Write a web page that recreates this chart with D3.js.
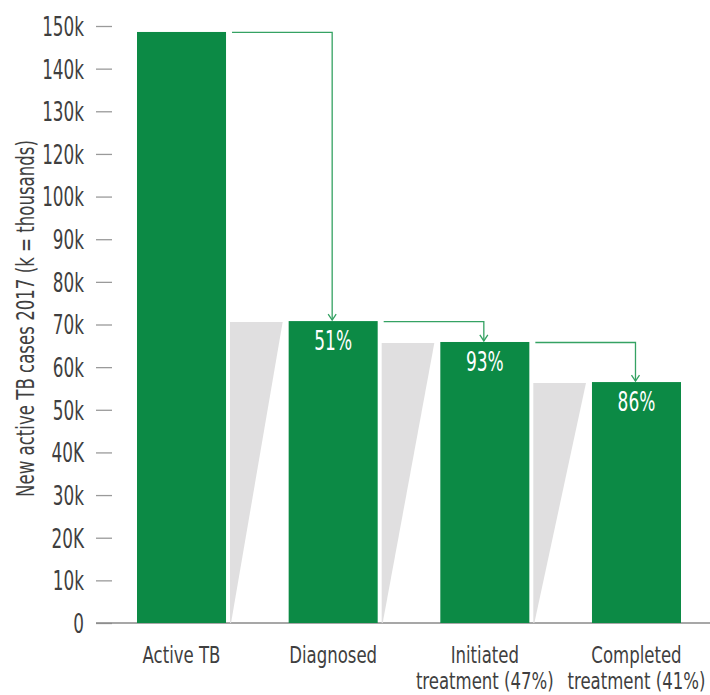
<!DOCTYPE html>
<html>
<head>
<meta charset="utf-8">
<script src="https://cdn.jsdelivr.net/npm/d3@7"></script>
<style>
  body { margin: 0; background: #fff; }
  text { font-family: "DejaVu Sans Condensed", "Liberation Sans", sans-serif; }
</style>
</head>
<body>
<script>
// stages of the cascade and their case counts
const stages = ['Active TB', 'Diagnosed', 'Initiated', 'Completed'];
const stageLines = [['Active TB'], ['Diagnosed'], ['Initiated', 'treatment (47%)'], ['Completed', 'treatment (41%)']];
const cases = [138600, 70800, 65900, 56500];
const stepPct = ['', '51%', '93%', '86%'];

// tick values and the labels printed on them (as in the original)
const tickValues = [0, 10000, 20000, 30000, 40000, 50000, 60000, 70000, 80000, 90000, 100000, 110000, 120000, 130000, 140000];
const tickLabels = ['0', '10k', '20K', '30k', '40K', '50k', '60k', '70k', '80k', '90k', '100k', '120k', '130k', '140k', '150k'];

const width = 710, height = 695;
const green = '#0c8a45';
const ink = '#3f3f3f';

const svg = d3.select('body').append('svg')
  .attr('width', width)
  .attr('height', height);

const y = d3.scaleLinear()
  .domain([0, 140000])
  .range([623, 26]);

const x = d3.scaleBand()
  .domain(stages)
  .range([137, 681])
  .paddingInner(0.413)
  .paddingOuter(0);

const bw = x.bandwidth();

// y axis (labels squeezed to look like a condensed face)
const sq = 0.72;
const yAxis = svg.append('g')
  .attr('transform', 'translate(112,0)')
  .call(d3.axisLeft(y)
    .tickValues(tickValues)
    .tickFormat((d, i) => tickLabels[i])
    .tickSize(16)
    .tickPadding(12));

yAxis.select('.domain').remove();
yAxis.selectAll('.tick line')
  .attr('stroke', '#9a9a9a')
  .attr('stroke-width', 1.3);
yAxis.selectAll('.tick text')
  .attr('fill', ink)
  .style('font-size', '26px')
  .attr('x', -28 / sq)
  .attr('dy', '0.36em')
  .attr('transform', `scale(${sq},1)`);

// baseline
svg.append('line')
  .attr('x1', 96).attr('x2', width)
  .attr('y1', y(0)).attr('y2', y(0))
  .attr('stroke', '#8a8a8a')
  .attr('stroke-width', 1.5);

// y title
svg.append('text')
  .attr('transform', 'translate(34,318.5) rotate(-90)')
  .attr('text-anchor', 'middle')
  .attr('fill', ink)
  .style('font-size', '25px')
  .attr('textLength', 357)
  .attr('lengthAdjust', 'spacingAndGlyphs')
  .text('New active TB cases 2017  (k = thousands)');

// grey drop-off wedges between bars
const wedges = d3.range(1, stages.length);
svg.selectAll('polygon.wedge')
  .data(wedges).enter()
  .append('polygon')
  .attr('class', 'wedge')
  .attr('fill', '#e0dfe0')
  .attr('points', i => {
    const x0 = x(stages[i - 1]) + bw + 4;
    const x1 = x(stages[i]) - 6;
    const top = y(cases[i]) + 1;
    const bot = y(0);
    return [[x0, top], [x1, top], [x0 + 1, bot], [x0, bot]].map(p => p.join(',')).join(' ');
  });

// bars
svg.selectAll('rect.bar')
  .data(stages).enter()
  .append('rect')
  .attr('class', 'bar')
  .attr('x', d => x(d))
  .attr('y', (d, i) => y(cases[i]))
  .attr('width', bw)
  .attr('height', (d, i) => y(0) - y(cases[i]))
  .attr('fill', green);

// percentage labels in bars
svg.selectAll('text.pct')
  .data(stages).enter()
  .append('text')
  .attr('class', 'pct')
  .attr('transform', (d, i) => `translate(${x(d) + bw / 2},${y(cases[i]) + 29}) scale(0.7,1)`)
  .attr('text-anchor', 'middle')
  .attr('fill', '#fff')
  .style('font-size', '27px')
  .text((d, i) => stepPct[i]);

// connector arrows
const arrowColor = '#35a263';
wedges.forEach(i => {
  const xs = x(stages[i - 1]) + bw + 6;
  const ys = y(cases[i - 1]) + 0.5;
  const xe = x(stages[i]) + bw / 2 - 1;
  const ye = y(cases[i]) - 1;
  svg.append('path')
    .attr('d', `M${xs},${ys} H${xe} V${ye}`)
    .attr('fill', 'none')
    .attr('stroke', arrowColor)
    .attr('stroke-width', 1.3);
  svg.append('path')
    .attr('d', `M${xe - 4},${ye - 6} L${xe},${ye} L${xe + 4},${ye - 6}`)
    .attr('fill', 'none')
    .attr('stroke', arrowColor)
    .attr('stroke-width', 1.3);
});

// x labels
const xl = svg.selectAll('text.xlab')
  .data(stages).enter()
  .append('text')
  .attr('class', 'xlab')
  .attr('transform', d => `translate(${x(d) + bw / 2},0) scale(0.8,1)`)
  .attr('text-anchor', 'middle')
  .attr('fill', ink)
  .style('font-size', '23px');

xl.selectAll('tspan')
  .data((d, i) => stageLines[i])
  .enter()
  .append('tspan')
  .attr('x', 0)
  .attr('y', (t, j) => 663 + j * 26)
  .text(t => t);
</script>
</body>
</html>
